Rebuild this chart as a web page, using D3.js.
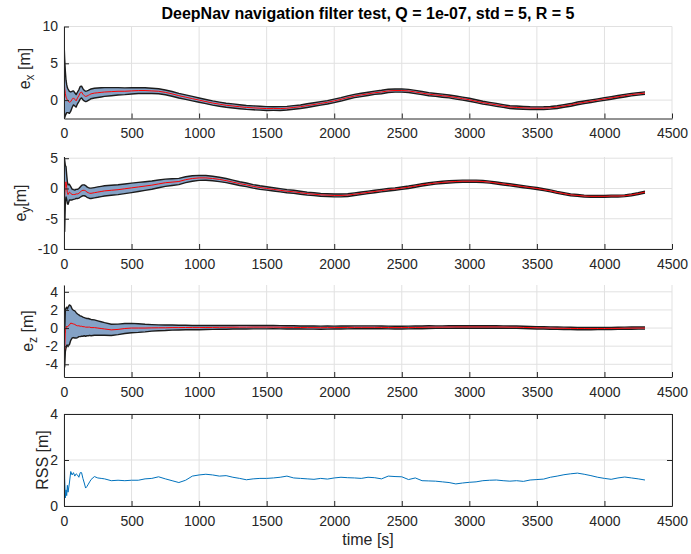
<!DOCTYPE html>
<html>
<head>
<meta charset="utf-8">
<script src="https://cdn.jsdelivr.net/npm/d3@7"></script>
<style>
  body { margin: 0; background: #fff; }
  svg { display: block; }
  text { font-family: "Liberation Sans", Arial, Helvetica, sans-serif; }
</style>
</head>
<body>
<svg id="chart" width="691" height="554"></svg>
<script>
// ---- time stamps [s] ----
const time = [
  0, 5, 10, 15, 20, 25, 30, 40, 50, 60, 70, 80, 90, 100, 110, 120, 130, 140, 150, 160, 170, 180, 190, 200, 225, 250, 275,
  300, 350, 400, 450, 500, 550, 600, 650, 700, 750,
  800, 850, 900, 950, 1000, 1050, 1100, 1150, 1200, 1250,
  1300, 1350, 1400, 1450, 1500, 1550, 1600, 1650, 1700, 1750,
  1800, 1850, 1900, 1950, 2000, 2050, 2100, 2150, 2200, 2250,
  2300, 2350, 2400, 2450, 2500, 2550, 2600, 2650, 2700, 2750,
  2800, 2850, 2900, 2950, 3000, 3050, 3100, 3150, 3200, 3250,
  3300, 3350, 3400, 3450, 3500, 3550, 3600, 3650, 3700, 3750,
  3800, 3850, 3900, 3950, 4000, 4050, 4100, 4150, 4200, 4250,
  4300
];

// ---- x error estimate [m] and its bound half-width ----
const ex = [
  3.7, 1.6, 0.9, 0.4, 0.2, 0.0, -0.1, -0.3, -0.2, 0.1, 0.3, 0.1, -0.1, 0.3, 0.6, 1.0, 1.1, 0.8, 0.6, 0.5, 0.55, 0.65, 0.75, 0.85, 0.95, 1.0, 1.05,
  1.1, 1.15, 1.2, 1.2, 1.25, 1.3, 1.3, 1.25, 1.2, 1.05,
  0.85, 0.6, 0.4, 0.2, 0.0, -0.2, -0.4, -0.55, -0.7, -0.8,
  -0.9, -1.0, -1.05, -1.1, -1.15, -1.15, -1.15, -1.1, -1.0, -0.9,
  -0.75, -0.6, -0.45, -0.3, -0.1, 0.1, 0.35, 0.55, 0.7, 0.85,
  1.0, 1.1, 1.25, 1.3, 1.3, 1.25, 1.1, 0.95, 0.8, 0.7,
  0.6, 0.5, 0.35, 0.2, 0.05, -0.15, -0.35, -0.5, -0.65, -0.8,
  -0.95, -1.0, -1.05, -1.1, -1.1, -1.1, -1.05, -0.95, -0.8, -0.65,
  -0.45, -0.3, -0.15, 0.0, 0.15, 0.3, 0.45, 0.6, 0.75, 0.85,
  0.95
];
const exBound = [
  4.3, 4.0, 3.0, 2.3, 1.9, 1.7, 1.6, 1.5, 1.3, 1.1, 0.95, 0.9, 0.85, 0.8, 0.8, 0.85, 0.8, 0.75, 0.72, 0.7, 0.7, 0.68, 0.68, 0.66, 0.66, 0.65, 0.63,
  0.6, 0.55, 0.5, 0.46, 0.43, 0.4, 0.38, 0.36, 0.34, 0.33,
  0.32, 0.31, 0.31, 0.3, 0.29, 0.28, 0.29, 0.28, 0.27, 0.28,
  0.27, 0.26, 0.27, 0.26, 0.26, 0.25, 0.26, 0.25, 0.25, 0.24,
  0.25, 0.24, 0.24, 0.23, 0.24, 0.23, 0.23, 0.22, 0.23, 0.22,
  0.22, 0.23, 0.22, 0.21, 0.22, 0.21, 0.22, 0.21, 0.21, 0.2,
  0.21, 0.2, 0.21, 0.2, 0.2, 0.19, 0.2, 0.19, 0.2, 0.19,
  0.19, 0.2, 0.19, 0.19, 0.18, 0.19, 0.18, 0.19, 0.18, 0.18,
  0.19, 0.18, 0.18, 0.17, 0.18, 0.18, 0.17, 0.18, 0.17, 0.17,
  0.17
];

// ---- y error estimate [m] and its bound half-width ----
const ey = [
  0.5, -1.2, 0.8, 1.1, 0.2, -0.7, -1.0, -0.6, -0.8, -1.0, -1.0, -1.0, -0.9, -0.9, -0.8, -0.6, -0.4, -0.3, -0.3, -0.4, -0.6, -0.7, -0.8, -0.8, -0.7, -0.6, -0.5,
  -0.4, -0.3, -0.2, -0.05, 0.1, 0.25, 0.4, 0.55, 0.75, 0.95,
  1.05, 1.15, 1.45, 1.65, 1.75, 1.75, 1.65, 1.5, 1.3, 1.05,
  0.8, 0.6, 0.35, 0.15, 0.0, -0.15, -0.3, -0.45, -0.55, -0.7,
  -0.85, -0.95, -1.05, -1.1, -1.15, -1.15, -1.1, -0.95, -0.8, -0.65,
  -0.5, -0.35, -0.2, -0.1, 0.05, 0.2, 0.4, 0.6, 0.75, 0.9,
  1.0, 1.1, 1.15, 1.2, 1.2, 1.2, 1.15, 1.05, 0.9, 0.75,
  0.6, 0.45, 0.3, 0.15, 0.0, -0.2, -0.4, -0.65, -0.85, -1.05,
  -1.15, -1.25, -1.3, -1.3, -1.3, -1.25, -1.25, -1.2, -1.05, -0.85,
  -0.6
];
const eyBound = [
  5.0, 5.9, 3.0, 2.5, 2.0, 1.8, 1.6, 1.3, 1.1, 0.9, 0.8, 0.75, 0.75, 0.75, 0.8, 0.85, 0.9, 0.9, 0.9, 0.88, 0.86, 0.85, 0.85, 0.85, 0.85, 0.86, 0.85,
  0.84, 0.83, 0.82, 0.8, 0.78, 0.75, 0.72, 0.68, 0.64, 0.6,
  0.56, 0.52, 0.48, 0.45, 0.42, 0.4, 0.38, 0.36, 0.34, 0.32,
  0.31, 0.3, 0.29, 0.29, 0.28, 0.27, 0.27, 0.26, 0.26, 0.25,
  0.25, 0.24, 0.24, 0.23, 0.23, 0.23, 0.22, 0.22, 0.22, 0.21,
  0.21, 0.21, 0.21, 0.2, 0.2, 0.2, 0.2, 0.19, 0.19, 0.19,
  0.19, 0.19, 0.18, 0.18, 0.18, 0.18, 0.18, 0.17, 0.17, 0.17,
  0.17, 0.17, 0.17, 0.16, 0.16, 0.16, 0.16, 0.16, 0.16, 0.16,
  0.16, 0.15, 0.15, 0.15, 0.15, 0.15, 0.15, 0.15, 0.15, 0.15,
  0.15
];

// ---- z error estimate [m] and its bound half-width ----
const ez = [
  0.8, -2.4, -0.3, 0.0, 0.2, 0.1, 0.2, 0.35, 0.55, 0.5, 0.45, 0.4, 0.3, 0.25, 0.25, 0.2, 0.2, 0.15, 0.15, 0.1, 0.1, 0.1, 0.1, 0.05, 0.05, 0.0, -0.05,
  -0.1, -0.2, -0.15, -0.05, 0.0, 0.0, 0.0, 0.02, 0.03, 0.03,
  0.05, 0.05, 0.06, 0.05, 0.05, 0.06, 0.07, 0.08, 0.08, 0.09,
  0.1, 0.1, 0.1, 0.1, 0.1, 0.1, 0.09, 0.08, 0.07, 0.06,
  0.05, 0.05, 0.04, 0.05, 0.05, 0.06, 0.07, 0.08, 0.08, 0.08,
  0.08, 0.07, 0.06, 0.05, 0.05, 0.06, 0.07, 0.08, 0.1, 0.1,
  0.1, 0.11, 0.12, 0.12, 0.12, 0.12, 0.12, 0.12, 0.12, 0.11,
  0.1, 0.09, 0.07, 0.05, 0.03, 0.02, 0.0, -0.02, -0.03, -0.04,
  -0.05, -0.05, -0.06, -0.05, -0.05, -0.04, -0.03, -0.02, -0.01, 0.0,
  0.0
];
const ezBound = [
  1.6, 1.9, 2.3, 2.2, 2.1, 2.0, 2.1, 2.2, 1.9, 1.6, 1.5, 1.5, 1.4, 1.3, 1.2, 1.15, 1.1, 1.05, 1.0, 1.0, 0.95, 0.95, 0.9, 0.9, 0.85, 0.8, 0.75,
  0.7, 0.62, 0.58, 0.55, 0.52, 0.48, 0.42, 0.36, 0.32, 0.3,
  0.28, 0.26, 0.25, 0.24, 0.23, 0.22, 0.22, 0.21, 0.21, 0.2,
  0.2, 0.2, 0.19, 0.19, 0.19, 0.18, 0.18, 0.18, 0.18, 0.17,
  0.17, 0.17, 0.17, 0.17, 0.16, 0.16, 0.16, 0.16, 0.16, 0.16,
  0.16, 0.15, 0.15, 0.15, 0.15, 0.15, 0.15, 0.15, 0.15, 0.14,
  0.14, 0.14, 0.14, 0.14, 0.14, 0.14, 0.14, 0.14, 0.13, 0.13,
  0.13, 0.13, 0.13, 0.13, 0.13, 0.13, 0.13, 0.13, 0.13, 0.13,
  0.13, 0.12, 0.12, 0.12, 0.12, 0.12, 0.12, 0.12, 0.12, 0.12,
  0.12
];

// ---- root-sum-square position error [m] ----
const rss = [
  4.0, 1.2, 0.35, 0.7, 0.45, 0.9, 0.6, 1.0, 1.5, 1.35, 1.45, 1.3, 1.4, 1.35, 1.25, 1.45, 1.45, 1.2, 1.0, 0.78, 0.85, 0.95, 1.05, 1.15, 1.28, 1.22, 1.2,
  1.18, 1.1, 1.12, 1.1, 1.12, 1.12, 1.18, 1.2, 1.27, 1.18,
  1.1, 1.02, 1.12, 1.3, 1.35, 1.38, 1.35, 1.3, 1.32, 1.25,
  1.2, 1.14, 1.18, 1.2, 1.2, 1.22, 1.25, 1.3, 1.22, 1.2,
  1.18, 1.16, 1.2, 1.17, 1.22, 1.25, 1.23, 1.22, 1.2, 1.25,
  1.23, 1.18, 1.3, 1.28, 1.27, 1.15, 1.22, 1.1, 1.09, 1.08,
  1.05, 1.02, 0.96, 1.0, 1.03, 1.05, 1.1, 1.12, 1.13, 1.1,
  1.08, 1.1, 1.07, 1.13, 1.15, 1.17, 1.25, 1.3, 1.36, 1.4,
  1.43, 1.38, 1.32, 1.25, 1.2, 1.16, 1.22, 1.26, 1.22, 1.18,
  1.13
];

// ---- tick values ----
const xTicks = [0, 500, 1000, 1500, 2000, 2500, 3000, 3500, 4000, 4500];
const exTicks = [0, 5, 10];
const eyTicks = [-10, -5, 0, 5];
const ezTicks = [-4, -2, 0, 2, 4];
const rssTicks = [0, 2, 4];

// ---- layout ----
const left = 64, right = 672, panelH = 92;
const svg = d3.select("#chart");
const x = d3.scaleLinear().domain([0, 4500]).range([left, right]);
const plain = d => String(d);

const inkColor = "#262626";
const gridColor = "#e1e1e1";
const bandFill = "#84a2c6";
const estColor = "#ff0000";
const rssColor = "#0072bd";

const panels = [
  { top: 26.5, domain: [-2.5, 10], ticks: exTicks, est: ex, bound: exBound, sym: "e", sub: "x", rest: " [m]", labelX: 30, labelDY: -4 },
  { top: 157, domain: [-10, 5.2], ticks: eyTicks, est: ey, bound: eyBound, sym: "e", sub: "y", rest: "[m]", labelX: 25.5, labelDY: 0 },
  { top: 285, domain: [-5.4, 4.75], ticks: ezTicks, est: ez, bound: ezBound, sym: "e", sub: "z", rest: " [m]", labelX: 33, labelDY: 0 },
  { top: 414, domain: [0, 4], ticks: rssTicks, line: rss, sym: "RSS [m]", labelX: 47.5, labelDY: 0, box: true }
];

svg.append("text")
  .attr("x", (left + right) / 2)
  .attr("y", 19)
  .attr("text-anchor", "middle")
  .attr("font-size", 16)
  .attr("font-weight", "bold")
  .attr("fill", "#000")
  .text("DeepNav navigation filter test, Q = 1e-07, std = 5, R = 5");

panels.forEach((p, i) => {
  const bottom = p.top + panelH;
  const y = d3.scaleLinear().domain(p.domain).range([bottom, p.top]);
  const g = svg.append("g");

  // grid
  g.append("g").selectAll("line").data(xTicks).join("line")
    .attr("x1", d => x(d)).attr("x2", d => x(d))
    .attr("y1", p.top).attr("y2", bottom)
    .attr("stroke", gridColor).attr("stroke-width", 1);
  g.append("g").selectAll("line").data(p.ticks).join("line")
    .attr("x1", left).attr("x2", right)
    .attr("y1", d => y(d)).attr("y2", d => y(d))
    .attr("stroke", gridColor).attr("stroke-width", 1);

  // clip region for the data
  const clipId = "clip" + i;
  svg.append("clipPath").attr("id", clipId)
    .append("rect").attr("x", left).attr("y", p.top)
    .attr("width", right - left).attr("height", panelH);
  const data = g.append("g").attr("clip-path", `url(#${clipId})`);
  const idx = d3.range(time.length);

  if (p.est) {
    const area = d3.area()
      .x(k => x(time[k]))
      .y0(k => y(p.est[k] - p.bound[k]))
      .y1(k => y(p.est[k] + p.bound[k]));
    data.append("path").attr("d", area(idx))
      .attr("fill", bandFill).attr("stroke", "none");
    const upper = d3.line().x(k => x(time[k])).y(k => y(p.est[k] + p.bound[k]));
    const lower = d3.line().x(k => x(time[k])).y(k => y(p.est[k] - p.bound[k]));
    [upper, lower].forEach(fn => {
      data.append("path").attr("d", fn(idx))
        .attr("fill", "none").attr("stroke", "#1c1c1c")
        .attr("stroke-width", 1.4).attr("stroke-linejoin", "round");
    });
    const mid = d3.line().x(k => x(time[k])).y(k => y(p.est[k]));
    data.append("path").attr("d", mid(idx))
      .attr("fill", "none").attr("stroke", estColor).attr("stroke-width", 1);
  } else {
    const ln = d3.line().x(k => x(time[k])).y(k => y(p.line[k]));
    data.append("path").attr("d", ln(idx))
      .attr("fill", "none").attr("stroke", rssColor).attr("stroke-width", 1);
  }

  // axes (ticks point inward)
  const xAxis = d3.axisBottom(x).tickValues(xTicks).tickFormat(plain)
    .tickSizeInner(-5).tickSizeOuter(0).tickPadding(10);
  const yAxis = d3.axisLeft(y).tickValues(p.ticks).tickFormat(plain)
    .tickSizeInner(-5).tickSizeOuter(0).tickPadding(6);
  const styleAxis = sel => {
    sel.select(".domain").attr("stroke", inkColor);
    sel.selectAll(".tick line").attr("stroke", inkColor);
    sel.selectAll(".tick text").attr("fill", inkColor).attr("font-size", 14)
      .attr("font-family", "'Liberation Sans', Arial, Helvetica, sans-serif");
  };
  g.append("g").attr("transform", `translate(0,${bottom})`).call(xAxis).call(styleAxis);
  g.append("g").attr("transform", `translate(${left},0)`).call(yAxis).call(styleAxis);
  if (p.box) {
    g.append("g").attr("transform", `translate(0,${p.top})`)
      .call(d3.axisTop(x).tickValues(xTicks).tickSizeInner(-5).tickSizeOuter(0).tickFormat(""))
      .call(styleAxis);
    g.append("g").attr("transform", `translate(${right},0)`)
      .call(d3.axisRight(y).tickValues(p.ticks).tickSizeInner(-5).tickSizeOuter(0).tickFormat(""))
      .call(styleAxis);
  }

  // y label
  const lab = svg.append("text")
    .attr("transform", `translate(${p.labelX},${(p.top + bottom) / 2 + p.labelDY}) rotate(-90)`)
    .attr("text-anchor", "middle")
    .attr("font-size", 16)
    .attr("fill", inkColor);
  if (p.sub) {
    lab.append("tspan").text(p.sym);
    lab.append("tspan").attr("dy", 4).attr("font-size", 12).text(p.sub);
    lab.append("tspan").attr("dy", -4).text(p.rest);
  } else {
    lab.text(p.sym);
  }
});

svg.append("text")
  .attr("x", (left + right) / 2)
  .attr("y", 545)
  .attr("text-anchor", "middle")
  .attr("font-size", 16)
  .attr("fill", inkColor)
  .text("time [s]");
</script>
</body>
</html>
